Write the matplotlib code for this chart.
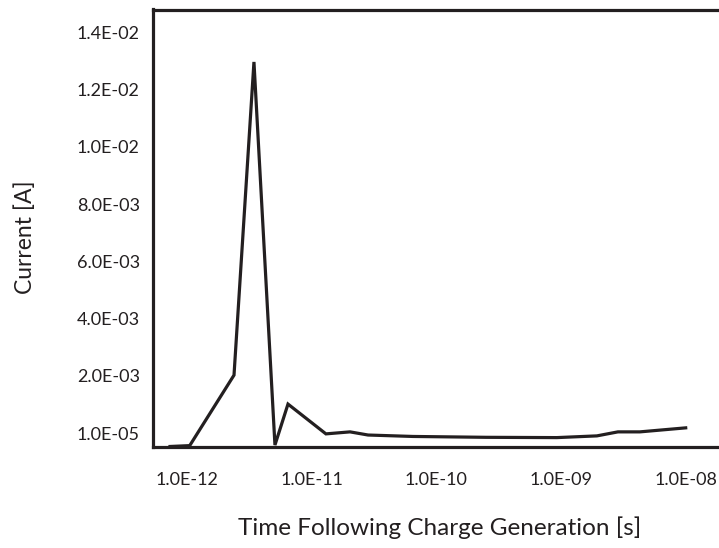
import matplotlib
matplotlib.use('Agg')
import matplotlib.pyplot as plt
from matplotlib.ticker import FixedLocator, NullLocator

plt.rcParams['font.family'] = ['Lato', 'DejaVu Sans']

# values
time_s = [7.3e-13, 1.05e-12, 2.38e-12, 3.44e-12, 5.07e-12, 6.45e-12, 1.30e-11,
          2.03e-11, 2.83e-11, 6.48e-11, 2.5e-10, 9.26e-10, 1.94e-09, 2.86e-09,
          4.29e-09, 1.00e-08]
current_a = [-4.6e-4, -4.3e-4, 2.03e-3, 1.296e-2, -4.1e-4, 1.02e-3, -2e-5,
             5e-5, -6e-5, -1.1e-4, -1.4e-4, -1.5e-4, -9e-5, 5e-5,
             5e-5, 1.9e-4]

xticks = [1e-12, 1e-11, 1e-10, 1e-09, 1e-08]
xticklabels = ['1.0E-12', '1.0E-11', '1.0E-10', '1.0E-09', '1.0E-08']
yticks = [1e-5, 2e-3, 4e-3, 6e-3, 8e-3, 1e-2, 1.2e-2, 1.4e-2]
yticklabels = ['1.0E-05', '2.0E-03', '4.0E-03', '6.0E-03', '8.0E-03',
               '1.0E-02', '1.2E-02', '1.4E-02']

ink = '#231f20'

fig = plt.figure(figsize=(7.19, 5.48), dpi=100)
ax = fig.add_axes([153/719, 1 - 447/548, 1 - 153/719, (447 - 9.5)/548])

ax.plot(time_s, current_a, color=ink, lw=2.3, solid_joinstyle='miter')
ax.set_xscale('log')
ax.set_xlim(5.33e-13, 1.85e-08)
ax.set_ylim(-4.78e-4, 1.479e-2)

ax.xaxis.set_major_locator(FixedLocator(xticks))
ax.xaxis.set_minor_locator(NullLocator())
ax.set_xticklabels(xticklabels)
ax.set_yticks(yticks)
ax.set_yticklabels(yticklabels)
ax.tick_params(axis='both', length=0, labelsize=13, colors=ink)
ax.tick_params(axis='x', pad=18)
ax.tick_params(axis='y', pad=9.5)

for side in ['left', 'top', 'bottom']:
    ax.spines[side].set_linewidth(2.3)
    ax.spines[side].set_color(ink)
ax.spines['right'].set_visible(False)

fig.text(25/719, 1 - 237/548, 'Current [A]', rotation=90, ha='center',
         va='center', fontsize=16.5, color=ink)
fig.text(440/719, 1 - 528/548, 'Time Following Charge Generation [s]',
         ha='center', va='center', fontsize=17.5, color=ink)

fig.savefig('out.png', dpi=100)
